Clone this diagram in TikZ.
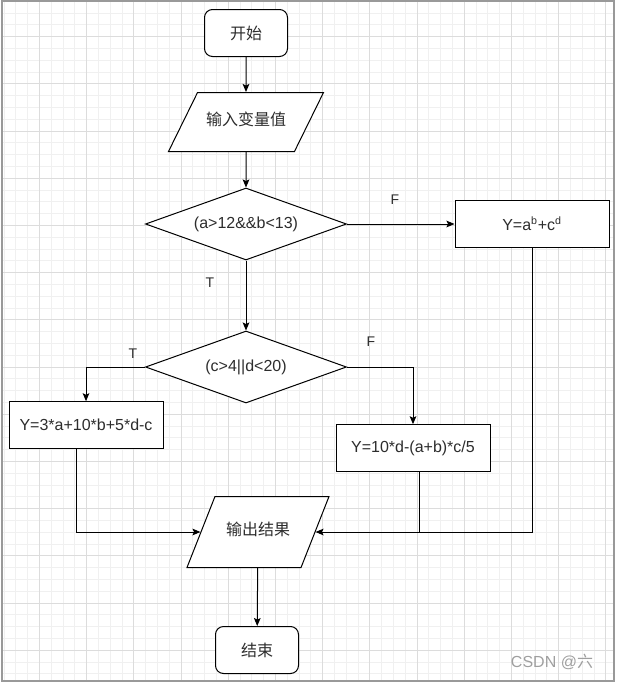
\documentclass[tikz,border=0pt]{standalone}
\usepackage{fontspec}
\setmainfont{Liberation Sans}
\newfontfamily\cjk{Noto Sans CJK SC}
\usepackage{tikz}
\usetikzlibrary{arrows.meta, positioning, shapes.geometric, calc}
\definecolor{gridminor}{RGB}{240,240,240}
\definecolor{gridmajor}{RGB}{220,220,220}
\definecolor{txt}{RGB}{45,45,45}

\begin{document}
\begin{tikzpicture}[x=0.75pt, y=-0.75pt,
   every node/.style={font=\fontsize{12}{14}\selectfont, text=txt},
   term/.style={rectangle, rounded corners=6pt, draw, fill=white, line width=0.75pt,
                minimum width=62.25pt, minimum height=35.25pt, inner sep=0pt},
   io/.style={trapezium, trapezium stretches body=true, draw, fill=white, line width=0.75pt,
              inner xsep=0pt, text height=8.5pt, text depth=3pt},
   dec/.style={diamond, aspect=2.8, draw, fill=white, line width=0.75pt,
               minimum width=150.75pt, minimum height=54pt, inner sep=0pt},
   proc/.style={rectangle, draw, fill=white, line width=0.75pt,
                minimum width=115.5pt, minimum height=35pt, inner sep=0pt},
   lbl/.style={font=\fontsize{10.5}{12}\selectfont},
   flow/.style={line width=0.75pt, -{Stealth[length=6pt, width=5pt, inset=1.2pt]}},
   link/.style={line width=0.75pt}]
  \useasboundingbox (0,0) rectangle (618,682);

  % grid paper
  \begin{scope}
    \clip (2,1) rectangle (614,681);
    \foreach \i in {0,...,52}
      \draw[gridminor, line width=0.75pt] ({4+\i*11.8},1) -- ++(0,680);
    \foreach \j in {0,...,57}
      \draw[gridminor, line width=0.75pt] (2,{1.2+\j*11.8}) -- ++(612,0);
    \foreach \i in {0,...,12}
      \draw[gridmajor, line width=0.75pt] ({39.4+\i*47.2},1) -- ++(0,680);
    \foreach \j in {0,...,13}
      \draw[gridmajor, line width=0.75pt] (2,{36.6+\j*47.2}) -- ++(612,0);
  \end{scope}
  \draw[gray!80, line width=1.2pt] (2,1) rectangle (614,681);

  % flow chart
  \node[term] (start) at (246,33) {\cjk 开始};
  \node[io, trapezium left angle=63.8, trapezium right angle=116.2, inner ysep=16.375pt,
        minimum width=116.25pt] (input) at (246,122) {\cjk 输入变量值};
  \node[dec] (cond1) at (246,224) {(a>12\&\&b<13)};
  \node[proc] (proc1) at (532,224) {Y=a\textsuperscript{b}+c\textsuperscript{d}};
  \node[dec] (cond2) at (246,367) {(c>4||d<20)};
  \node[proc] (proc2) at (86,425) {Y=3*a+10*b+5*d-c};
  \node[proc] (proc3) at (413,448) {Y=10*d-(a+b)*c/5};
  \node[io, trapezium left angle=68.5, trapezium right angle=111.5, inner ysep=20.875pt,
        minimum width=106.5pt] (output) at (258,532) {\cjk 输出结果};
  \node[term] (stop) at (257,650) {\cjk 结束};

  \node[lbl] (f1) at (395,200) {F};
  \node[lbl] (t1) at (210,283) {T};
  \node[lbl] (t2) at (133,354) {T};
  \node[lbl] (f2) at (371,342) {F};

  \draw[flow] (start) -- (input);
  \draw[flow] (input) -- (cond1);
  \draw[flow] (cond1) -- (proc1);
  \draw[flow] (cond1) -- (cond2);
  \draw[flow] (cond2.west) -| (proc2.north);
  \draw[flow] (cond2.east) -| (proc3.north);
  \draw[flow] ([xshift=-7.5pt]proc2.south) |- (output.west);
  \draw[flow] (proc1.south) |- (output.east);
  \draw[link] ([xshift=4.5pt]proc3.south) -- ([xshift=4.5pt]proc3.south |- output.east);
  \draw[flow] (output) -- (stop);

  \node[text=gray!75] (mark) at (552,662) {CSDN @{\cjk 六}};
\end{tikzpicture}
\end{document}
